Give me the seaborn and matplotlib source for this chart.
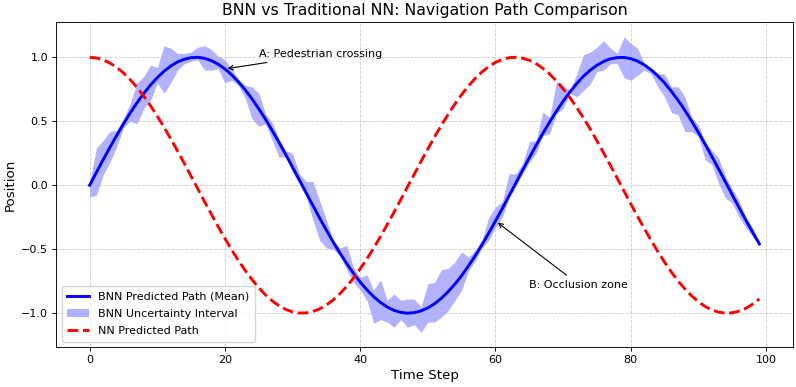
import pandas as pd
import seaborn as sns
import matplotlib
matplotlib.use("Agg")
import matplotlib.pyplot as plt

# time steps
time_step = list(range(100))

# BNN mean path
bnn_mean = [
    0.000, 0.100, 0.199, 0.296, 0.389, 0.479, 0.565, 0.644, 0.717, 0.783,
    0.841, 0.891, 0.932, 0.964, 0.985, 0.997, 1.000, 0.992, 0.974, 0.946,
    0.909, 0.863, 0.808, 0.746, 0.675, 0.598, 0.516, 0.427, 0.335, 0.239,
    0.141, 0.042, -0.058, -0.158, -0.256, -0.351, -0.443, -0.530, -0.612, -0.688,
    -0.757, -0.818, -0.872, -0.916, -0.952, -0.978, -0.994, -1.000, -0.996, -0.982,
    -0.959, -0.926, -0.883, -0.832, -0.773, -0.706, -0.631, -0.551, -0.465, -0.374,
    -0.279, -0.182, -0.083, 0.017, 0.117, 0.215, 0.312, 0.405, 0.494, 0.578,
    0.657, 0.729, 0.794, 0.852, 0.899, 0.938, 0.968, 0.988, 0.998, 0.999,
    0.989, 0.970, 0.941, 0.902, 0.855, 0.799, 0.734, 0.663, 0.585, 0.501,
    0.412, 0.319, 0.223, 0.125, 0.025, -0.075, -0.174, -0.272, -0.367, -0.458,
]

# uncertainty interval bounds
bnn_lower = [
    -0.09, -0.08, 0.08, 0.18, 0.30, 0.45, 0.50, 0.48, 0.60, 0.66,
    0.80, 0.72, 0.80, 0.90, 0.95, 0.97, 0.98, 0.90, 0.90, 0.91,
    0.80, 0.82, 0.78, 0.68, 0.52, 0.46, 0.48, 0.35, 0.22, 0.22,
    0.10, 0.01, -0.09, -0.27, -0.43, -0.49, -0.50, -0.55, -0.66, -0.76,
    -0.82, -0.90, -1.08, -1.05, -1.07, -1.11, -1.05, -1.11, -1.09, -1.15,
    -1.07, -1.07, -1.03, -0.98, -0.90, -0.82, -0.67, -0.59, -0.49, -0.43,
    -0.33, -0.25, -0.10, -0.01, 0.09, 0.18, 0.25, 0.39, 0.40, 0.56,
    0.60, 0.72, 0.69, 0.74, 0.79, 0.89, 0.90, 0.95, 0.95, 0.84,
    0.82, 0.86, 0.90, 0.87, 0.77, 0.69, 0.57, 0.55, 0.42, 0.42,
    0.38, 0.20, 0.16, 0.01, -0.10, -0.14, -0.25, -0.33, -0.40, -0.48,
]
bnn_upper = [
    0.02, 0.29, 0.35, 0.42, 0.43, 0.52, 0.64, 0.80, 0.85, 0.94,
    0.92, 1.09, 1.07, 1.03, 1.03, 1.04, 1.08, 1.09, 1.06, 1.01,
    0.98, 0.91, 0.83, 0.78, 0.77, 0.72, 0.56, 0.49, 0.36, 0.27,
    0.25, 0.09, 0.03, 0.03, -0.12, -0.27, -0.43, -0.49, -0.47, -0.64,
    -0.72, -0.70, -0.82, -0.74, -0.90, -0.85, -0.90, -0.89, -0.89, -0.95,
    -0.77, -0.76, -0.66, -0.65, -0.60, -0.52, -0.56, -0.51, -0.43, -0.25,
    -0.17, -0.13, 0.09, 0.09, 0.17, 0.34, 0.35, 0.57, 0.53, 0.81,
    0.78, 0.74, 0.87, 1.02, 1.04, 1.08, 1.13, 1.07, 1.03, 1.16,
    1.11, 1.07, 0.95, 0.92, 0.87, 0.87, 0.77, 0.77, 0.69, 0.53,
    0.47, 0.34, 0.27, 0.21, 0.07, -0.03, -0.12, -0.25, -0.33, -0.44,
]

# traditional NN path
nn_path = [
    1.000, 0.995, 0.980, 0.955, 0.921, 0.878, 0.825, 0.765, 0.697, 0.622,
    0.540, 0.454, 0.362, 0.268, 0.170, 0.071, -0.029, -0.129, -0.227, -0.323,
    -0.416, -0.505, -0.589, -0.666, -0.737, -0.801, -0.857, -0.904, -0.942, -0.971,
    -0.990, -0.999, -0.998, -0.987, -0.967, -0.936, -0.897, -0.848, -0.791, -0.726,
    -0.654, -0.575, -0.490, -0.401, -0.307, -0.211, -0.112, -0.012, 0.087, 0.187,
    0.284, 0.378, 0.469, 0.554, 0.635, 0.709, 0.776, 0.835, 0.886, 0.928,
    0.960, 0.983, 0.997, 1.000, 0.993, 0.977, 0.950, 0.914, 0.869, 0.816,
    0.754, 0.685, 0.608, 0.526, 0.439, 0.347, 0.251, 0.153, 0.054, -0.046,
    -0.146, -0.244, -0.339, -0.431, -0.519, -0.602, -0.679, -0.749, -0.811, -0.865,
    -0.911, -0.948, -0.975, -0.992, -1.000, -0.997, -0.984, -0.962, -0.930, -0.889,
]

df = pd.DataFrame({"Time Step": time_step, "BNN": bnn_mean,
                   "Lower": bnn_lower, "Upper": bnn_upper, "NN": nn_path})

# the reference looks like a 10x5 figure shrunk to ~80%, so scale sizes down
plt.rcParams.update({
    "axes.linewidth": 0.65,
    "xtick.major.size": 2.8, "ytick.major.size": 2.8,
    "xtick.major.width": 0.65, "ytick.major.width": 0.65,
    "xtick.major.pad": 2.8, "ytick.major.pad": 2.8,
    "grid.linewidth": 0.65,
})

fig, ax = plt.subplots(figsize=(7.96, 3.87), dpi=100)
fig.subplots_adjust(left=0.0705, right=0.996, bottom=0.103, top=0.943)

sns.lineplot(data=df, x="Time Step", y="BNN", color="blue", linewidth=2.1,
             label="BNN Predicted Path (Mean)", ax=ax)
ax.fill_between(df["Time Step"], df["Lower"], df["Upper"], color="blue",
                alpha=0.3, linewidth=0, label="BNN Uncertainty Interval")
sns.lineplot(data=df, x="Time Step", y="NN", color="red", linewidth=2.1,
             linestyle="--", label="NN Predicted Path", ax=ax)

ax.annotate("A: Pedestrian crossing", xy=(20, bnn_mean[20]), xytext=(25, 1.0),
            arrowprops=dict(arrowstyle="->", color="black", lw=0.8), fontsize=8)
ax.annotate("B: Occlusion zone", xy=(60, bnn_mean[60]), xytext=(65, -0.8),
            arrowprops=dict(arrowstyle="->", color="black", lw=0.8), fontsize=8)

ax.set_title("BNN vs Traditional NN: Navigation Path Comparison", fontsize=11.3, pad=4.8)
ax.set_xlabel("Time Step", fontsize=9.6, labelpad=3.2)
ax.set_ylabel("Position", fontsize=9.6, labelpad=3.2)
ax.tick_params(labelsize=8)
ax.grid(True, linestyle="--", alpha=0.6)
ax.legend(loc="lower left", fontsize=8, labelspacing=0.65, borderpad=0.5)

plt.savefig("out.png", dpi=100)
